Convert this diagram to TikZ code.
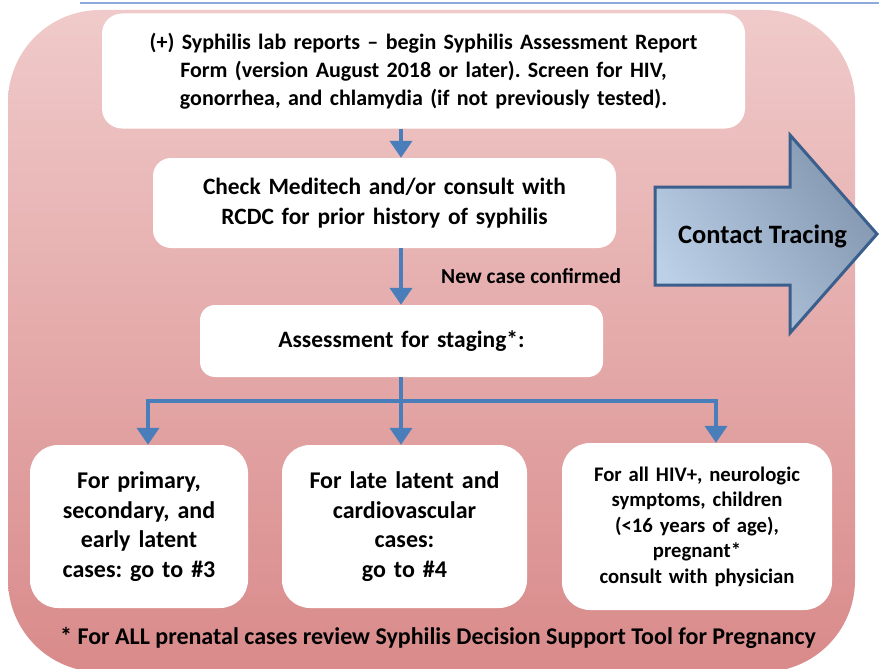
\documentclass[tikz,border=0pt]{standalone}
\usepackage{fontspec}
\setmainfont{Carlito}
\usetikzlibrary{arrows.meta}
\definecolor{flowblue}{HTML}{4A7EBB}
\definecolor{topline}{HTML}{8EAADB}
\definecolor{bgtop}{HTML}{F0CACA}
\definecolor{bgbot}{HTML}{D98A8A}
\definecolor{ctleft}{HTML}{BCD0E8}
\definecolor{ctright}{HTML}{8296AF}
\definecolor{ctborder}{HTML}{3A5F8C}
\tikzset{
  x=1pt, y=-1pt,
  box/.style={fill=white, inner sep=0pt, align=center, font=\bfseries},
  flowline/.style={draw=flowblue, line width=4pt},
  flow/.style={flowline, -{Triangle[width=22pt,length=17pt]}},
  lbl/.style={font=\bfseries, inner sep=0pt}
}
\frenchspacing
\begin{document}
\begin{tikzpicture}
\useasboundingbox (0,0) rectangle (879,669);
% background
\shade[top color=bgtop, bottom color=bgbot, rounded corners=92pt] (8,10) rectangle (855,672);
\draw[topline, line width=2pt] (80,3) -- (879,3);
% boxes
\node[box, rounded corners=20pt, minimum width=643pt, minimum height=115pt, text width=620pt,
  font=\fontsize{22}{28}\selectfont\bfseries] (b1) at (423.5,71)
  {(+) Syphilis lab reports -- begin Syphilis Assessment Report\\ Form (version August 2018 or later). Screen for HIV,\\ gonorrhea, and chlamydia (if not previously tested).};
\node[box, rounded corners=18pt, minimum width=463pt, minimum height=90pt, text width=440pt,
  font=\fontsize{23.4}{30}\selectfont\bfseries] (b2) at (384.5,203)
  {Check Meditech and/or consult with\\ RCDC for prior history of syphilis};
\node[box, rounded corners=15pt, minimum width=403pt, minimum height=72pt, text width=380pt,
  font=\fontsize{23.5}{30}\selectfont\bfseries] (b3) at (401.5,341)
  {Assessment for staging*:};
\node[box, rounded corners=28pt, minimum width=218pt, minimum height=163pt, text width=205pt,
  font=\fontsize{24}{29.5}\selectfont\bfseries] (b4) at (139,526.5)
  {For primary,\\ secondary, and\\ early latent\\ cases: go to \#3};
\node[box, rounded corners=28pt, minimum width=245pt, minimum height=163pt, text width=230pt,
  font=\fontsize{24}{29.5}\selectfont\bfseries] (b5) at (404.5,526.5)
  {For late latent and\\ cardiovascular\\ cases:\\ go to \#4};
\node[box, rounded corners=28pt, minimum width=270pt, minimum height=167pt, text width=258pt,
  font=\fontsize{20.7}{25.5}\selectfont\bfseries] (b6) at (697,526.5)
  {For all HIV+, neurologic\\ symptoms, children\\ (<16 years of age),\\ pregnant*\\ consult with physician};
% contact tracing arrow
\shadedraw[top color=ctright, bottom color=ctleft, shading angle=-55, draw=ctborder, line width=3pt, line join=miter]
  (655,187) -- (790,187) -- (790,135) -- (877,234) -- (790,333) -- (790,285) -- (655,285) -- cycle;
\node[lbl, font=\fontsize{26.5}{30}\selectfont\bfseries] (ct) at (762.5,236) {Contact Tracing};
% labels
\node[lbl, anchor=west, font=\fontsize{21.4}{24}\selectfont\bfseries] (nc) at (441,276) {New case confirmed};
\node[lbl, font=\fontsize{24}{28}\selectfont\bfseries] (foot) at (438,638)
  {* For ALL prenatal cases review Syphilis Decision Support Tool for Pregnancy};
% connectors
\coordinate (spine) at (401,0);
\coordinate (j) at (401,401);
\coordinate (jl) at (148,401);
\coordinate (jr) at (716,401);
\draw[flow] (b1.south -| spine) -- (b2.north -| spine);
\draw[flow] (b2.south -| spine) -- (b3.north -| spine);
\draw[flowline] (b3.south -| spine) -- (j);
\draw[flow] (j) -- (jl) -- (b4.north -| jl);
\draw[flow] (j) -- (b5.north -| j);
\draw[flow] (j) -- (jr) -- (b6.north -| jr);
\end{tikzpicture}
\end{document}
